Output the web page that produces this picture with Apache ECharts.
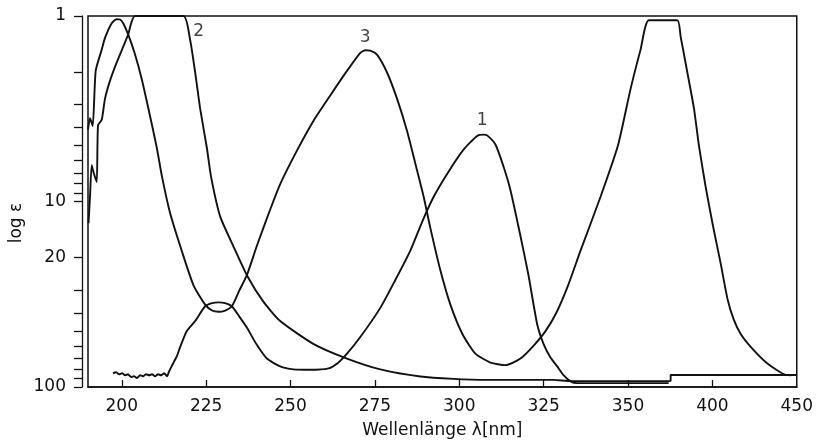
<!DOCTYPE html>
<html><head><meta charset="utf-8">
<script src="https://cdn.jsdelivr.net/npm/echarts@6/dist/echarts.min.js"></script>
<style>html,body{margin:0;padding:0;background:#fff}#c{width:816px;height:444px}</style>
</head><body><div id="c"></div>
<script>
// axis ticks / labels (x axis positions vs. printed labels as in the original figure)
const xTickValues = [200, 225, 250, 275, 300, 325, 350, 375, 400];
const xTickLabels = ['200', '225', '250', '275', '300', '325', '350', '400', '450'];
const yTickValues = [1,2,3,4,5,6,7,8,9,10,20,30,40,50,60,70,80,90,100];
const yLabelValues = [1, 10, 20, 100];

// curve 1 (noisy start, bump ~228, peak ~307)
const curve1X = [197.42,198.31,199.19,200.08,200.97,201.86,202.75,203.64,204.53,205.42,206.31,207.2,208.09,208.98,209.87,210.76,211.65,212.54,213.43,214.03,215.21,216.4,217.29,219.28,221.74,224.7,226.78,228.65,230.63,232.62,234.79,237.07,239.83,243.0,246.95,250.89,255.85,261.28,263.86,266.73,270.68,276.61,281.06,285.51,289.07,292.42,296.4,301.32,305.29,307.25,308.26,310.72,313.18,315.17,318.13,320.51,323.09,324.96,327.03,329.02,330.89,332.97,334.95,362.03];
const curve1Y = [84.3,83.3,85.4,84.3,86.4,85.4,88.5,87.5,89.6,86.4,87.5,85.4,86.4,85.4,87.5,85.4,86.4,84.3,87.5,82.3,74.7,67.7,60.95,49.9,44.1,36.7,35.3,34.97,35.3,36.7,41.6,47.8,58.5,70.26,77.4,80.32,80.8,79.35,74.7,66.1,53.8,37.45,26.5,18.41,12.78,9.43,7.10,5.24,4.43,4.36,4.40,4.93,6.54,8.69,15.34,24.97,45.9,58.5,69.4,77.4,86.4,93.3,95.3,95.3];

// curve 2 (rises at far left, off-scale, steep fall near 218)
const curve2X = [190.15,190.59,191.1,191.63,192.58,192.97,194.06,195.04,196.53,198.51,200.47,201.86,203.94,218.27,220.25,221.74,223.22,225.21,226.48,229.15,233.01,237.07,241.9,246.95,256.74,266.73,276.61,288.47,298.26,308.35,327.92,332.97,362.63];
const curve2Y = [13.09,9.43,6.38,6.95,7.85,3.88,3.63,2.79,2.23,1.78,1.458,1.265,1.0,1.0,1.344,2.009,3.15,5.13,7.39,12.03,17.33,24.97,34.55,44.1,58.5,70.26,80.32,87.8,90.4,91.5,91.5,92.97,92.97];
// curve 2 recorder tail after range switch
const curve2TailX = [362.63, 362.63, 400];
const curve2TailY = [92.97, 86.1, 86.1];

// curve 3 (narrow peak ~198, dip ~228, peak ~272, plateau ~360)
const curve3X = [190,190.59,191.39,192.28,194.06,195.04,197.03,198.51,199.49,200.47,201.95,203.94,205.93,207.89,210.38,211.95,214.32,217.29,221.23,224.7,226.78,228.65,230.63,232.62,234.79,237.07,240.04,243.98,246.95,251.9,256.74,261.78,266.73,270.68,272.16,273.64,275.63,278.6,281.56,284.53,287.49,289.45,291.44,294.4,297.37,300.93,304.79,309.24,313.68,318.13,321.98,325.55,328.81,332.07,335.93,341.86,346.99,350.76,353.72,356.19,364.61,365.59,367.58,369.54,371.02,373.01,375.08,377.45,379.53,381.31,383.39,386.35,391.3,396.7,398.2];
const curve3Y = [4.10,3.56,3.92,1.977,1.518,1.312,1.093,1.041,1.045,1.097,1.265,1.614,2.19,3.15,5.13,7.39,11.55,17.33,28.2,35.97,38.7,39.3,38.7,36.7,30.3,24.97,17.33,11.04,8.05,5.32,3.69,2.68,1.977,1.58,1.531,1.537,1.614,2.016,2.79,4.17,6.79,9.43,13.92,23.49,35.97,51.8,66.1,73.8,76.2,70.26,59.98,49.96,39.65,28.88,18.41,9.43,5.01,2.47,1.518,1.054,1.054,1.291,2.016,3.15,5.01,8.35,13.26,21.57,33.84,43.18,51.8,60.7,74.7,86.1,86.4];

// curve labels
const curveLabelNames = ['1', '2', '3'];
const curveLabelX = [306.77, 222.8, 272.1];
const curveLabelY = [3.65, 1.22, 1.30];

const zip = (xs, ys) => xs.map((x, i) => [x, ys[i]]);
const lineStyle = { color: '#111', width: 1.9 };
const lineSeries = (name, xs, ys, smooth) => ({
  name, type: 'line', data: zip(xs, ys), showSymbol: false, symbol: 'none',
  smooth, lineStyle, silent: true, animation: false
});

const chart = echarts.init(document.getElementById('c'), null, { renderer: 'canvas' });
chart.setOption({
  animation: false,
  backgroundColor: '#fff',
  textStyle: { fontFamily: 'DejaVu Sans' },
  grid: { left: 88, right: 19, top: 16, bottom: 50, show: true, borderColor: '#111', borderWidth: 1.5, backgroundColor: 'transparent' },
  xAxis: {
    type: 'value', min: 190, max: 400,
    name: 'Wellenlänge λ[nm]', nameLocation: 'middle', nameGap: 35,
    nameTextStyle: { fontSize: 17, color: '#111', fontFamily: 'DejaVu Sans' },
    axisLine: { show: true, lineStyle: { color: '#111', width: 1.5 } },
    axisTick: { show: true, inside: true, length: 7, lineStyle: { color: '#111', width: 1.3 }, customValues: xTickValues.slice(0, 8) },
    axisLabel: {
      show: true, margin: 11, fontSize: 17, color: '#111', fontFamily: 'DejaVu Sans',
      customValues: xTickValues,
      formatter: v => { const i = xTickValues.indexOf(v); return i >= 0 ? xTickLabels[i] : ''; }
    },
    splitLine: { show: false }
  },
  yAxis: {
    type: 'log', logBase: 10, min: 1, max: 100, inverse: true, offset: 6,
    axisLine: { show: true, lineStyle: { color: '#111', width: 1.3 } },
    axisTick: { show: true, inside: false, length: 8, lineStyle: { color: '#111', width: 1.3 }, customValues: yTickValues },
    axisLabel: { show: true, margin: 16, fontSize: 17, color: '#111', fontFamily: 'DejaVu Sans', customValues: yLabelValues, formatter: v => String(Math.round(v)) },
    splitLine: { show: false }, minorTick: { show: false }
  },
  graphic: [{
    type: 'text', x: 17, y: 223, rotation: Math.PI / 2,
    style: { text: 'log ε', fontSize: 17, fontFamily: 'DejaVu Sans', fill: '#111', align: 'center', verticalAlign: 'middle' }
  }],
  series: [
    lineSeries('1', curve1X, curve1Y, 0.2),
    lineSeries('2', curve2X, curve2Y, 0.2),
    lineSeries('2b', curve2TailX, curve2TailY, false),
    lineSeries('3', curve3X, curve3Y, 0.2),
    {
      type: 'scatter', symbol: 'circle', symbolSize: 1, itemStyle: { color: 'rgba(0,0,0,0)' }, silent: true,
      data: curveLabelNames.map((n, i) => [curveLabelX[i], curveLabelY[i], n]),
      label: { show: true, position: 'inside', formatter: p => p.value[2], fontSize: 17, color: '#111', fontFamily: 'DejaVu Sans' }
    }
  ]
});
</script></body></html>
